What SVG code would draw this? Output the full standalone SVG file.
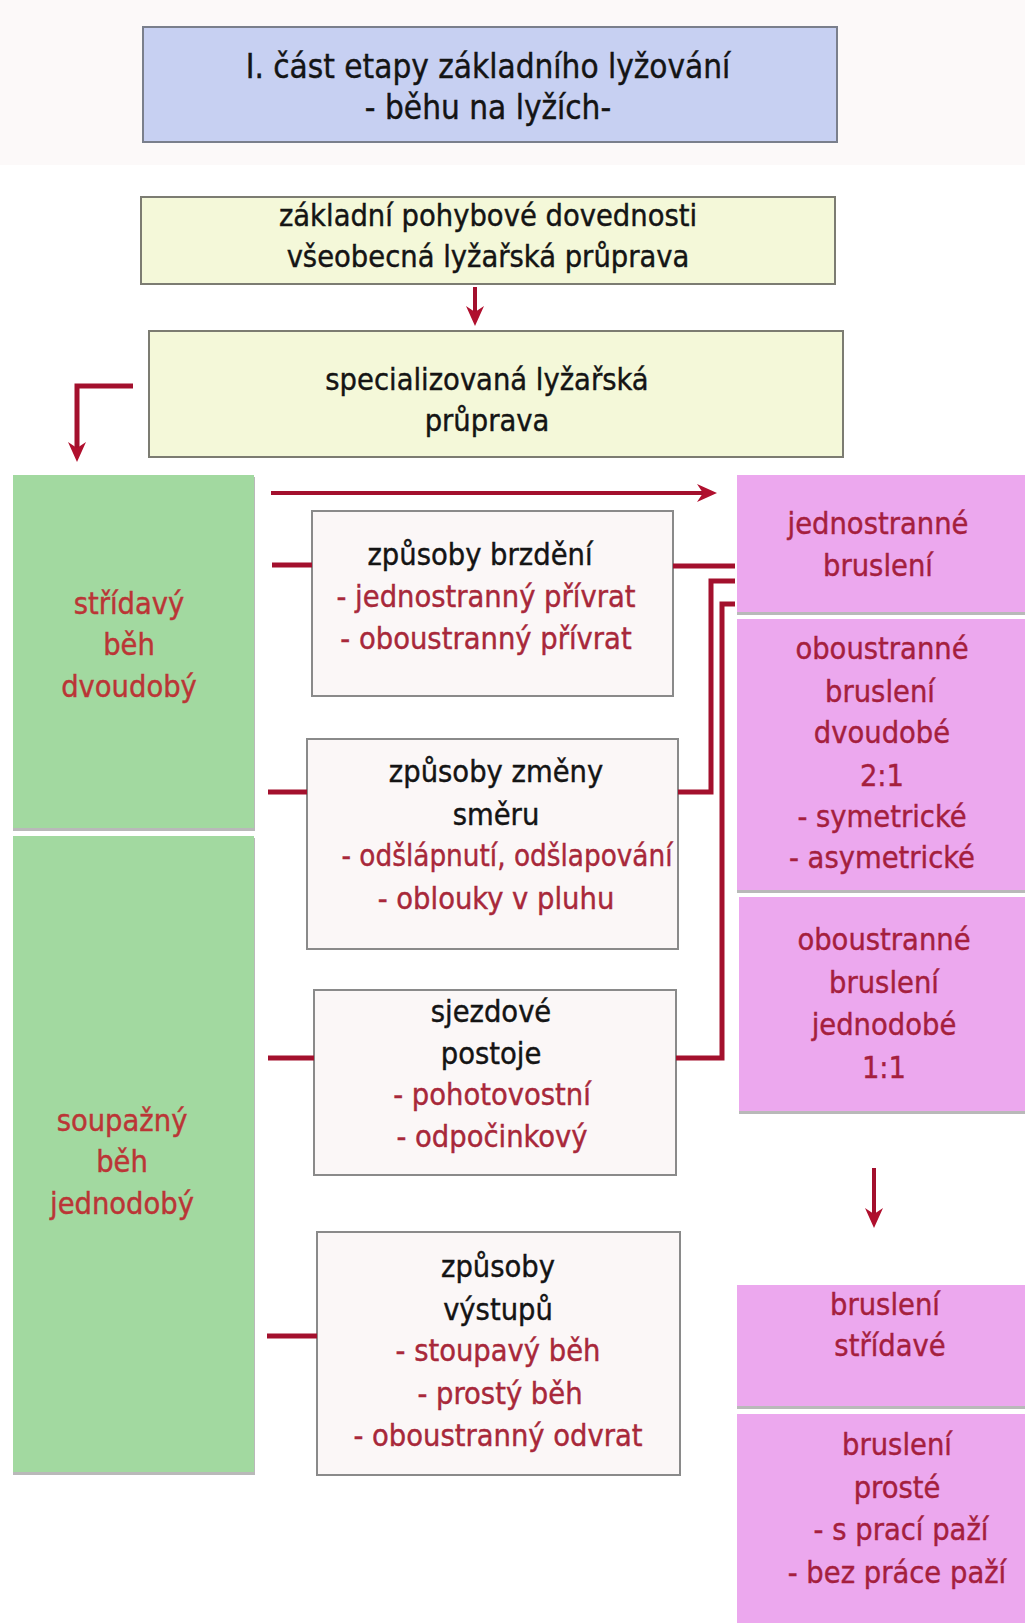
<svg xmlns="http://www.w3.org/2000/svg" width="1025" height="1623" viewBox="0 0 1025 1623">
<defs>
<style>
text{font-family:"DejaVu Sans Condensed","DejaVu Sans","Liberation Sans",sans-serif;font-stretch:condensed;font-size:30.5px;text-anchor:middle;stroke-width:0.4px}
.t{font-size:33px;fill:#141414;stroke:#141414}
.k{fill:#141414;stroke:#141414}
.r{fill:#a8283a;stroke:#a8283a}
.g{fill:#bb3536;stroke:#bb3536}
.p{fill:#a51f3e;stroke:#a51f3e}
.blue{fill:#c7d0f2;stroke:#7a7f8c;stroke-width:2}
.yel{fill:#f4f8d9;stroke:#7c7c72;stroke-width:2}
.wht{fill:#fbf7f7;stroke:#8a8a8a;stroke-width:2}
.grn{fill:#a2d9a0}
.pnk{fill:#eca8ee}
.sh{fill:#b9b9b9}
.c{fill:none;stroke:#a3102d;stroke-width:5}
.c4{fill:none;stroke:#a3102d;stroke-width:4}
</style>
<marker id="ah" viewBox="0 0 20 18" refX="9" refY="9" markerWidth="20" markerHeight="18" markerUnits="userSpaceOnUse" orient="auto">
<path d="M0,0 L20,9 L0,18 L6,9 z" fill="#b0102e"/>
</marker>
</defs>
<rect x="0" y="0" width="1025" height="1623" fill="#ffffff"/>
<rect x="0" y="0" width="1025" height="165" fill="#fcf9f9"/>

<g id="title">
<rect class="blue" x="143" y="27" width="694" height="115"/>
<text class="t" x="488" y="78">I. část etapy základního lyžování</text>
<text class="t" x="488" y="119">- běhu na lyžích-</text>
</g>

<g id="zakladni">
<rect class="yel" x="141" y="197" width="694" height="87"/>
<text class="k" x="488" y="226">základní pohybové dovednosti</text>
<text class="k" x="488" y="267">všeobecná lyžařská průprava</text>
</g>

<g id="specializovana">
<rect class="yel" x="149" y="331" width="694" height="126"/>
<text class="k" x="487" y="390">specializovaná lyžařská</text>
<text class="k" x="487" y="431">průprava</text>
</g>

<g id="stridavy">
<rect class="sh" x="13" y="477" width="242" height="354"/>
<rect class="grn" x="13" y="475" width="241" height="353"/>
<text class="g" x="129" y="614">střídavý</text>
<text class="g" x="129" y="655">běh</text>
<text class="g" x="129" y="697">dvoudobý</text>
</g>

<g id="soupazny">
<rect class="sh" x="13" y="838" width="242" height="637"/>
<rect class="grn" x="13" y="836" width="241" height="636"/>
<text class="g" x="122" y="1131">soupažný</text>
<text class="g" x="122" y="1172">běh</text>
<text class="g" x="122" y="1214">jednodobý</text>
</g>

<g id="brzdeni">
<rect class="wht" x="312" y="511" width="361" height="185"/>
<text class="k" x="480" y="565">způsoby brzdění</text>
<text class="r" x="486" y="607">- jednostranný přívrat</text>
<text class="r" x="486" y="649">- oboustranný přívrat</text>
</g>

<g id="zmeny">
<rect class="wht" x="307" y="739" width="371" height="210"/>
<text class="k" x="496" y="782">způsoby změny</text>
<text class="k" x="496" y="825">směru</text>
<text class="r" x="507" y="866" textLength="331" lengthAdjust="spacingAndGlyphs">- odšlápnutí, odšlapování</text>
<text class="r" x="496" y="909">- oblouky v pluhu</text>
</g>

<g id="sjezdove">
<rect class="wht" x="314" y="990" width="362" height="185"/>
<text class="k" x="491" y="1022">sjezdové</text>
<text class="k" x="491" y="1064">postoje</text>
<text class="r" x="492" y="1105">- pohotovostní</text>
<text class="r" x="492" y="1147">- odpočinkový</text>
</g>

<g id="vystupy">
<rect class="wht" x="317" y="1232" width="363" height="243"/>
<text class="k" x="498" y="1277">způsoby</text>
<text class="k" x="498" y="1320">výstupů</text>
<text class="r" x="498" y="1361">- stoupavý běh</text>
<text class="r" x="500" y="1404">- prostý běh</text>
<text class="r" x="498" y="1446">- oboustranný odvrat</text>
</g>

<g id="jednostranne">
<rect class="sh" x="737" y="477" width="290" height="138"/>
<rect class="pnk" x="737" y="475" width="290" height="137"/>
<text class="p" x="878" y="534">jednostranné</text>
<text class="p" x="878" y="576">bruslení</text>
</g>

<g id="dvoudobe">
<rect class="sh" x="737" y="621" width="290" height="272"/>
<rect class="pnk" x="737" y="619" width="290" height="271"/>
<text class="p" x="882" y="659">oboustranné</text>
<text class="p" x="880" y="702">bruslení</text>
<text class="p" x="882" y="743">dvoudobé</text>
<text class="p" x="882" y="786">2:1</text>
<text class="p" x="882" y="827">- symetrické</text>
<text class="p" x="882" y="868">- asymetrické</text>
</g>

<g id="jednodobe">
<rect class="sh" x="739" y="899" width="288" height="215"/>
<rect class="pnk" x="739" y="897" width="288" height="214"/>
<text class="p" x="884" y="950">oboustranné</text>
<text class="p" x="884" y="993">bruslení</text>
<text class="p" x="884" y="1035">jednodobé</text>
<text class="p" x="884" y="1078">1:1</text>
</g>

<g id="stridave">
<rect class="sh" x="737" y="1287" width="290" height="122"/>
<rect class="pnk" x="737" y="1285" width="290" height="121"/>
<text class="p" x="885" y="1315">bruslení</text>
<text class="p" x="890" y="1356">střídavé</text>
</g>

<g id="proste">
<rect class="pnk" x="737" y="1414" width="290" height="212"/>
<text class="p" x="897" y="1455">bruslení</text>
<text class="p" x="897" y="1498">prosté</text>
<text class="p" x="901" y="1540">- s prací paží</text>
<text class="p" x="897" y="1583">- bez práce paží</text>
</g>

<g id="connectors">
<path class="c4" d="M475,287 V315" marker-end="url(#ah)"/>
<path class="c" d="M133,386 H77 V451" marker-end="url(#ah)"/>
<path class="c4" d="M271,493 H706" marker-end="url(#ah)"/>
<path class="c4" d="M874,1168 V1217" marker-end="url(#ah)"/>
<path class="c" d="M272,565 H312"/>
<path class="c" d="M673,566 H735"/>
<path class="c" d="M268,792 H307"/>
<path class="c" d="M678,792 H711 V581 H735"/>
<path class="c" d="M268,1058 H314"/>
<path class="c" d="M676,1058 H722 V604 H735"/>
<path class="c" d="M267,1336 H317"/>
</g>
</svg>
